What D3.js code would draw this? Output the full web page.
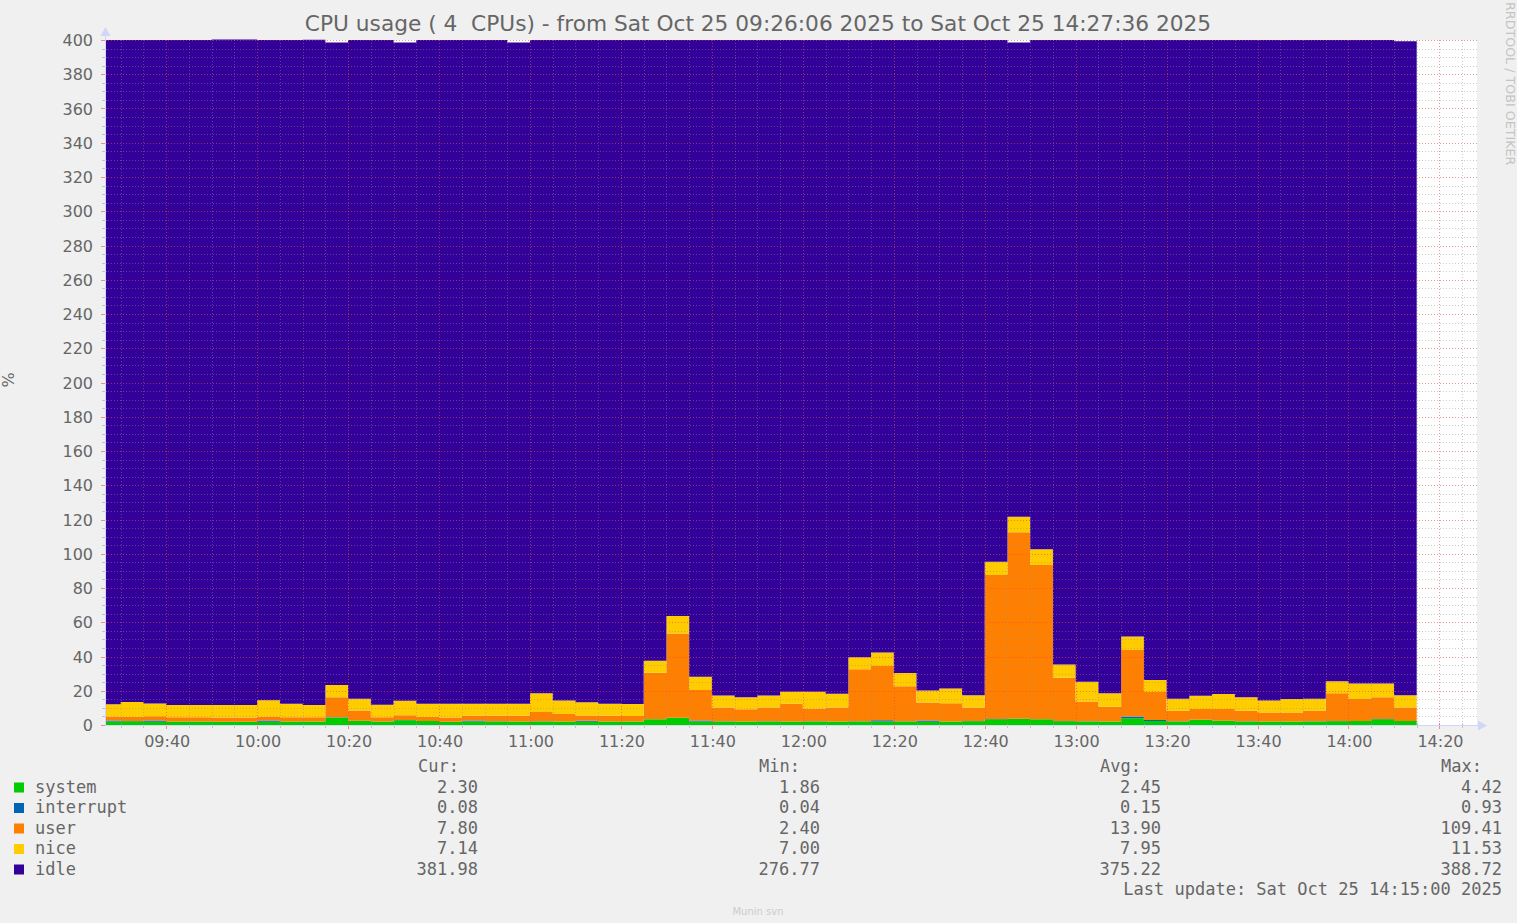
<!DOCTYPE html>
<html>
<head>
<meta charset="utf-8">
<script src="https://cdn.jsdelivr.net/npm/d3@7"></script>
<style>
  body { margin: 0; background: #f0f0f0; }
  svg text { white-space: pre; }
</style>
</head>
<body>
<svg id="chart" width="1517" height="923"></svg>
<script>
// 5 minute samples, each value covers the 5 minutes ending at this time
const times = ["09:30","09:35","09:40","09:45","09:50","09:55",
  "10:00","10:05","10:10","10:15","10:20","10:25","10:30","10:35","10:40","10:45","10:50","10:55",
  "11:00","11:05","11:10","11:15","11:20","11:25","11:30","11:35","11:40","11:45","11:50","11:55",
  "12:00","12:05","12:10","12:15","12:20","12:25","12:30","12:35","12:40","12:45","12:50","12:55",
  "13:00","13:05","13:10","13:15","13:20","13:25","13:30","13:35","13:40","13:45","13:50","13:55",
  "14:00","14:05","14:10","14:15"]

const system = [2.0,2.2,1.9,2.0,2.0,1.9,1.9,1.9,2.0,2.0, 4.4,2.4,2.0,2.8,2.3,1.9,2.0,2.1,2.0,2.1,
  2.0,1.9,2.0,2.0,3.3,4.2,2.0,2.1,2.0,2.1, 2.0,2.1,2.0,2.1,2.0,2.1,1.9,2.0,2.2,3.4,
  3.5,3.3,2.2,2.1,2.0,4.0,2.3,2.1,3.0,2.4, 2.1,2.0,2.0,2.1,2.2,2.3,3.4,2.30]
const interrupt = [0.6,0.08,0.7,0.06,0.06,0.04,0.05,0.7,0.08,0.06, 0.1,0.1,0.07,0.08,0.06,0.05,0.6,0.07,0.07,0.08,
  0.08,0.6,0.07,0.07,0.1,0.1,0.7,0.08,0.07,0.08, 0.08,0.07,0.08,0.1,0.8,0.1,0.7,0.08,0.08,0.1,
  0.12,0.1,0.08,0.07,0.07,0.93,0.6,0.07,0.08,0.08, 0.07,0.06,0.07,0.07,0.08,0.08,0.08,0.08]
const user = [2.4,2.6,2.5,2.5,2.45,2.5,2.5,2.4,2.5,2.4, 11.7,5.9,2.5,2.8,2.5,2.5,2.8,3.2,3.3,5.4,
  4.3,3.1,3.4,3.2,27.1,49.2,17.7,8.1,7.2,8.1, 10.4,7.5,8.2,30.3,31.7,20.4,10.6,10.6,8.0,84.1,
  108.9,90.0,25.3,11.6,8.6,38.9,16.4,6.2,6.2,6.8, 6.2,5.3,5.3,6.2,16.2,12.8,12.7,7.80]
const nice = [7.1,8.6,7.4,7.1,7.1,7.2,7.2,9.4,7.9,7.2, 7.2,7.0,7.2,8.5,7.5,8.0,7.0,7.0,7.0,10.9,
  7.9,7.7,7.0,7.0,7.0,10.1,7.8,7.0,7.0,7.0, 7.0,9.8,7.9,7.0,7.9,7.8,7.0,8.7,7.1,7.8,
  9.1,9.2,7.8,11.5,7.8,7.8,7.0,7.0,7.8,8.8, 7.9,7.0,7.8,7.0,7.0,9.1,8.1,7.14]
const idle = [387.9,386.5,387.5,388.3,388.4,388.7,388.7,385.6,387.5,388.5, 375.1,384.6,388.2,384.3,387.6,387.6,387.6,387.6,386.1,381.5,
  385.7,386.7,387.5,387.7,362.5,336.4,371.8,382.7,383.7,382.7, 380.5,380.5,381.8,360.5,357.6,369.6,379.8,378.6,382.6,304.6,
  276.9,297.4,364.6,374.7,381.5,348.4,373.7,384.6,382.9,381.9, 383.7,385.6,384.8,384.6,374.5,375.7,375.7,381.98]

const seriesNames = ["system","interrupt","user","nice","idle"]
const seriesColors = ["#00CC00","#0066B3","#FF8000","#FFCC00","#330099"]
const legendCur = ["2.30","0.08","7.80","7.14","381.98"]
const legendMin = ["1.86","0.04","2.40","7.00","276.77"]
const legendAvg = ["2.45","0.15","13.90","7.95","375.22"]
const legendMax = ["4.42","0.93","109.41","11.53","388.72"]

const yTicks = [0,20,40,60,80,100,120,140,160,180,200,220,240,260,280,300,320,340,360,380,400]
const xTickLabels = ["09:40","10:00","10:20","10:40","11:00","11:20","11:40","12:00","12:20","12:40","13:00","13:20","13:40","14:00","14:20"]

const startTime = "09:26:06"
const endTime = "14:27:36"

const titleText = "CPU usage ( 4  CPUs) - from Sat Oct 25 09:26:06 2025 to Sat Oct 25 14:27:36 2025"
const lastUpdate = "Last update: Sat Oct 25 14:15:00 2025"

const parseT = d3.timeParse("%Y-%m-%d %H:%M:%S")
const toDate = (s)=> parseT("2025-10-25 " + (s.length == 5 ? s + ":00" : s))

const FONT = "#666666"
const AXIS = "#CFD6F8"
const GRID = "rgba(143,143,143,0.45)"
const MGRID = "rgba(222,79,79,0.6)"

const svg = d3.select("#chart")

const plotLeft = 105, plotRight = 1477, plotTop = 40, plotBottom = 725

const x = d3.scaleTime()
            .domain([toDate(startTime), toDate(endTime)])
            .range([103, 1474])
const y = d3.scaleLinear()
            .domain([0, 400])
            .range([plotBottom, plotTop])

// background + canvas
svg.append("rect").attr("width", 1517).attr("height", 923).attr("fill", "#f0f0f0")
svg.append("rect")
   .attr("x", plotLeft).attr("y", plotTop)
   .attr("width", plotRight - plotLeft).attr("height", plotBottom - plotTop)
   .attr("fill", "#ffffff")

// stacked data
const rows = times.map((t, i)=>({
    time: toDate(t),
    system: system[i], interrupt: interrupt[i], user: user[i], nice: nice[i], idle: idle[i]
}))
// leading point so the first step starts at the left edge
const stackRows = [Object.assign({}, rows[0], {time: toDate(startTime)})].concat(rows)

const stacked = d3.stack().keys(seriesNames)(stackRows)

svg.append("clipPath").attr("id", "plotclip")
   .append("rect").attr("x", plotLeft).attr("y", 30)
   .attr("width", plotRight - plotLeft).attr("height", plotBottom - 30)

const area = d3.area()
               .curve(d3.curveStepBefore)
               .x((d)=> x(d.data.time))
               .y0((d)=> y(d[0]))
               .y1((d)=> y(d[1]))

svg.append("g").attr("clip-path", "url(#plotclip)")
   .selectAll("path")
   .data(stacked)
   .enter()
   .append("path")
   .attr("d", area)
   .attr("fill", (s, i)=> seriesColors[i])

// grid lines (drawn over the data like rrdtool does)
const minorY = d3.range(0, 401, 5).filter((v)=> v % 20 != 0)
const minorX = d3.timeMinute.every(5).range(toDate("09:30"), toDate("14:26"))
                 .filter((d)=> d.getMinutes() % 20 != 0)
const majorX = xTickLabels.map(toDate)

const grid = svg.append("g")
grid.selectAll(".hminor").data(minorY).enter().append("line")
    .attr("x1", plotLeft).attr("x2", plotRight)
    .attr("y1", (v)=> Math.round(y(v)) + 0.5).attr("y2", (v)=> Math.round(y(v)) + 0.5)
    .attr("stroke", GRID).attr("stroke-dasharray", "1,2")
grid.selectAll(".vminor").data(minorX).enter().append("line")
    .attr("x1", (d)=> Math.round(x(d)) + 0.5).attr("x2", (d)=> Math.round(x(d)) + 0.5)
    .attr("y1", plotTop).attr("y2", plotBottom)
    .attr("stroke", GRID).attr("stroke-dasharray", "1,2")
grid.selectAll(".hmajor").data(yTicks.slice(1)).enter().append("line")
    .attr("x1", plotLeft).attr("x2", plotRight)
    .attr("y1", (v)=> Math.round(y(v)) + 0.5).attr("y2", (v)=> Math.round(y(v)) + 0.5)
    .attr("stroke", MGRID).attr("stroke-dasharray", "1,2")
grid.selectAll(".vmajor").data(majorX).enter().append("line")
    .attr("x1", (d)=> Math.round(x(d)) + 0.5).attr("x2", (d)=> Math.round(x(d)) + 0.5)
    .attr("y1", plotTop).attr("y2", plotBottom)
    .attr("stroke", MGRID).attr("stroke-dasharray", "1,2")

// ticks on the axes
grid.selectAll(".xt").data(minorX).enter().append("line")
    .attr("x1", (d)=> Math.round(x(d)) + 0.5).attr("x2", (d)=> Math.round(x(d)) + 0.5)
    .attr("y1", plotBottom - 2).attr("y2", plotBottom + 3)
    .attr("stroke", GRID)
grid.selectAll(".xT").data(majorX).enter().append("line")
    .attr("x1", (d)=> Math.round(x(d)) + 0.5).attr("x2", (d)=> Math.round(x(d)) + 0.5)
    .attr("y1", plotBottom - 2).attr("y2", plotBottom + 4)
    .attr("stroke", MGRID)
grid.selectAll(".yt").data(minorY).enter().append("line")
    .attr("x1", plotLeft - 3).attr("x2", plotLeft + 2)
    .attr("y1", (v)=> Math.round(y(v)) + 0.5).attr("y2", (v)=> Math.round(y(v)) + 0.5)
    .attr("stroke", GRID)
grid.selectAll(".yT").data(yTicks).enter().append("line")
    .attr("x1", plotLeft - 4).attr("x2", plotLeft + 2)
    .attr("y1", (v)=> Math.round(y(v)) + 0.5).attr("y2", (v)=> Math.round(y(v)) + 0.5)
    .attr("stroke", MGRID)

// axis lines and arrows
svg.append("line").attr("x1", plotLeft).attr("x2", 1481)
   .attr("y1", plotBottom + 0.5).attr("y2", plotBottom + 0.5)
   .attr("stroke", AXIS)
svg.append("line").attr("x1", plotLeft + 0.5).attr("x2", plotLeft + 0.5)
   .attr("y1", plotBottom).attr("y2", 34)
   .attr("stroke", AXIS)
svg.append("path").attr("d", "M1478,720.5 L1487,725.5 L1478,730.5 Z").attr("fill", AXIS)
svg.append("path").attr("d", "M100.5,36 L105.5,27 L110.5,36 Z").attr("fill", AXIS)

// axis labels
svg.append("g").selectAll("text").data(yTicks).enter().append("text")
   .attr("x", 93).attr("y", (v)=> y(v) + 6)
   .attr("text-anchor", "end")
   .attr("font-family", "DejaVu Sans").attr("font-size", "16px").attr("fill", FONT)
   .text((v)=> v)

svg.append("g").selectAll("text").data(xTickLabels).enter().append("text")
   .attr("x", (t)=> x(toDate(t)) + 1).attr("y", 747)
   .attr("text-anchor", "middle")
   .attr("font-family", "DejaVu Sans").attr("font-size", "16px").attr("fill", FONT)
   .text((t)=> t)

svg.append("text")
   .attr("transform", "translate(14,380) rotate(-90)")
   .attr("text-anchor", "middle")
   .attr("font-family", "DejaVu Sans").attr("font-size", "16px").attr("fill", FONT)
   .text("%")

svg.append("text")
   .attr("x", 758).attr("y", 31)
   .attr("text-anchor", "middle")
   .attr("font-family", "DejaVu Sans").attr("font-size", "21.7px").attr("fill", FONT)
   .text(titleText)

svg.append("text")
   .attr("transform", "translate(1506,2) rotate(90)")
   .attr("font-family", "DejaVu Sans").attr("font-size", "12.7px").attr("fill", "#c4c4c4")
   .text("RRDTOOL / TOBI OETIKER")

svg.append("text")
   .attr("x", 758).attr("y", 915)
   .attr("text-anchor", "middle")
   .attr("font-family", "DejaVu Sans").attr("font-size", "10px").attr("fill", "#cccccc")
   .text("Munin svn")

// legend
const mono = "DejaVu Sans Mono"
const legendFont = "17px"
const headerY = 772, rowStep = 20.5
const columns = [
    {head: "Cur:", hx: 418, vx: 478, vals: legendCur},
    {head: "Min:", hx: 759, vx: 820, vals: legendMin},
    {head: "Avg:", hx: 1100, vx: 1161, vals: legendAvg},
    {head: "Max:", hx: 1441, vx: 1502, vals: legendMax}
]

const legend = svg.append("g").attr("font-family", mono).attr("font-size", legendFont).attr("fill", FONT)

columns.forEach((c)=>{
    legend.append("text").attr("x", c.hx).attr("y", headerY).text(c.head)
    legend.selectAll(null).data(c.vals).enter().append("text")
          .attr("x", c.vx).attr("y", (v, i)=> headerY + rowStep * (i + 1))
          .attr("text-anchor", "end")
          .text((v)=> v)
})

legend.selectAll("rect").data(seriesNames).enter().append("rect")
      .attr("x", 14).attr("y", (s, i)=> headerY + rowStep * (i + 1) - 10)
      .attr("width", 10).attr("height", 10)
      .attr("fill", (s, i)=> seriesColors[i])
legend.selectAll(".name").data(seriesNames).enter().append("text")
      .attr("x", 35).attr("y", (s, i)=> headerY + rowStep * (i + 1))
      .text((s)=> s)

legend.append("text").attr("x", 1502).attr("y", headerY + rowStep * 6)
      .attr("text-anchor", "end")
      .text(lastUpdate)
</script>
</body>
</html>
